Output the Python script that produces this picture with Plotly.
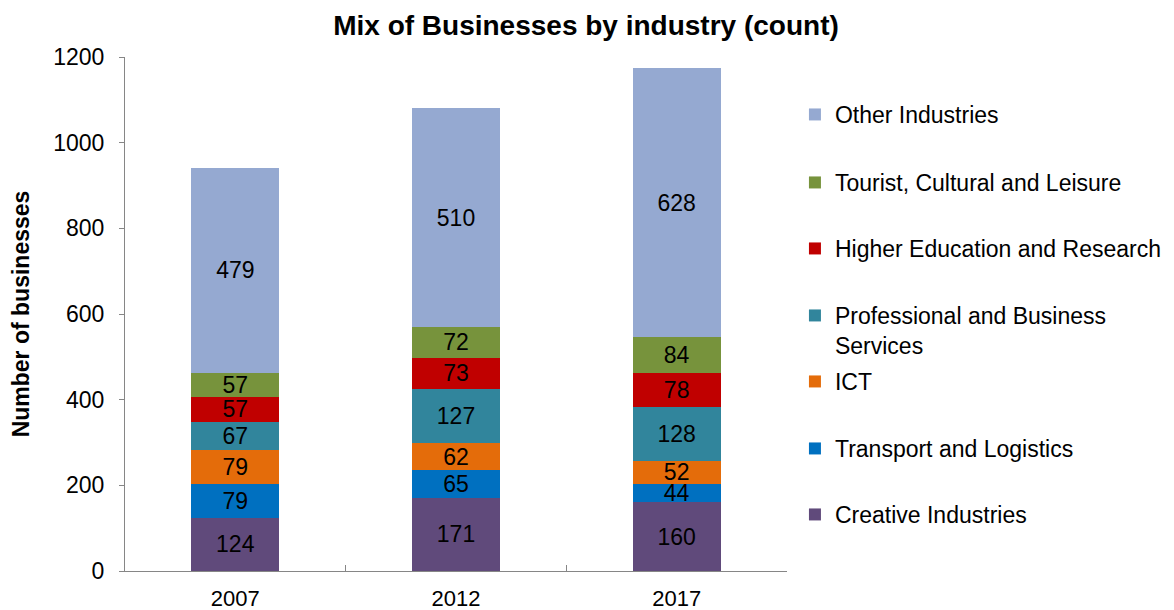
import plotly.graph_objects as go

years = ["2007", "2012", "2017"]
series_names = [
    "Creative Industries",
    "Transport and Logistics",
    "ICT",
    "Professional and Business<br>Services",
    "Higher Education and Research",
    "Tourist, Cultural and Leisure",
    "Other Industries",
]
creative = [124, 171, 160]
transport = [79, 65, 44]
ict = [79, 62, 52]
professional = [67, 127, 128]
higher_ed = [57, 73, 78]
tourist = [57, 72, 84]
other = [479, 510, 628]
series_values = [creative, transport, ict, professional, higher_ed, tourist, other]
colors = ["#604A7B", "#0070C0", "#E46C0A", "#31859C", "#C00000", "#77933C", "#95A9D1"]
y_ticks = [0, 200, 400, 600, 800, 1000, 1200]

FONT = "Liberation Sans, Arial, sans-serif"
W, H = 1174, 610
OFF = 8  # page body margin of the html page
ML, MR, MT, MB = 125 - OFF, 387 + OFF, 57 - OFF, 39 + OFF
plot_h = H - MT - MB

# target pixel rows (first-line centres on the page) of the legend entries, bottom series first
legend_rows = [514, 448, 381, 315, 248, 182, 114]

fig = go.Figure()
layout_legends = {}
for i, (name, vals, col) in enumerate(zip(series_names, series_values, colors)):
    lname = "legend" if i == 0 else f"legend{i + 1}"
    fig.add_trace(go.Bar(
        x=years, y=vals, name=name,
        marker=dict(color=col, line=dict(width=0)),
        text=[str(v) for v in vals],
        textposition="inside",
        insidetextanchor="middle",
        textangle=0,
        textfont=dict(color="black", size=23, family=FONT),
        legend=lname,
        showlegend=True,
    ))
    top_px = legend_rows[i] - OFF - 21
    layout_legends[lname] = dict(
        x=1.012, xanchor="left",
        y=(H - MB - top_px) / plot_h, yanchor="top",
        valign="top",
        bgcolor="rgba(0,0,0,0)",
        font=dict(size=23, family=FONT, color="black"),
        itemwidth=30,
        visible=True,
    )

fig.update_layout(
    showlegend=True,
    barmode="stack",
    bargap=0.6,
    width=W, height=H,
    margin=dict(l=ML, r=MR, t=MT, b=MB),
    paper_bgcolor="white", plot_bgcolor="white",
    font=dict(family=FONT, size=23, color="black"),
    uniformtext=dict(minsize=23, mode="show"),
    title=dict(text="<b>Mix of Businesses by industry (count)</b>",
               x=(586 - OFF) / W, xanchor="center", y=1 - (25 - OFF) / H, yanchor="middle",
               font=dict(size=28, family=FONT, color="black")),
    xaxis=dict(
        automargin=False,
        showline=True, linecolor="#868686", linewidth=1,
        ticks="inside", tickson="boundaries", ticklen=6, tickcolor="#868686",
        tickfont=dict(size=22, family=FONT),
        ticklabelstandoff=8,
    ),
    yaxis=dict(
        automargin=False,
        range=[0, 1200], tickvals=y_ticks,
        showline=True, linecolor="#868686", linewidth=1,
        ticks="outside", ticklen=5, tickcolor="#868686",
        showgrid=False, zeroline=False,
        tickfont=dict(size=23, family=FONT),
        ticklabelstandoff=10,
        title=dict(text="<b>Number of businesses</b>", font=dict(size=23, family=FONT), standoff=22),
    ),
    **layout_legends,
)

fig.write_html("out.html")
